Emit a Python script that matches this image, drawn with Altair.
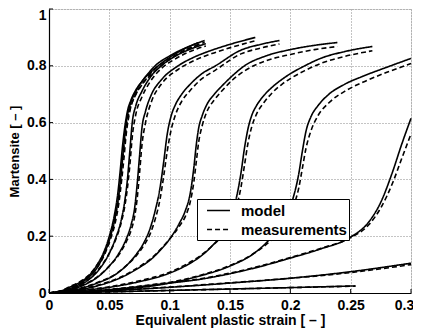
import altair as alt
import pandas as pd

# ---- curves: strain (x), model martensite (y), measured martensite (m) ----
A_x = [0, 0.01, 0.017, 0.025, 0.03, 0.035, 0.04, 0.045, 0.05, 0.054, 0.057, 0.059, 0.061, 0.063, 0.065, 0.068, 0.072, 0.077, 0.082, 0.088, 0.1, 0.11, 0.12, 0.129]
A_y = [0, 0.007, 0.02, 0.036, 0.05, 0.07, 0.1, 0.14, 0.2, 0.27, 0.35, 0.43, 0.52, 0.59, 0.64, 0.68, 0.715, 0.745, 0.772, 0.8, 0.835, 0.857, 0.875, 0.889]
A_m = [0, 0.008, 0.022, 0.038, 0.052, 0.072, 0.1, 0.135, 0.19, 0.25, 0.32, 0.39, 0.47, 0.55, 0.61, 0.66, 0.7, 0.733, 0.762, 0.79, 0.825, 0.85, 0.868, 0.883]

B_x = [0, 0.01, 0.02, 0.03, 0.04, 0.046, 0.051, 0.055, 0.058, 0.06, 0.062, 0.064, 0.067, 0.072, 0.078, 0.085, 0.092, 0.1, 0.11, 0.124]
B_y = [0, 0.006, 0.02, 0.045, 0.09, 0.14, 0.2, 0.27, 0.35, 0.43, 0.52, 0.6, 0.66, 0.71, 0.75, 0.78, 0.805, 0.83, 0.855, 0.882]
B_m = [0, 0.007, 0.021, 0.047, 0.09, 0.135, 0.19, 0.25, 0.32, 0.39, 0.47, 0.56, 0.64, 0.7, 0.74, 0.77, 0.797, 0.822, 0.848, 0.875]

C_x = [0, 0.01, 0.02, 0.03, 0.04, 0.05, 0.055, 0.06, 0.063, 0.065, 0.067, 0.069, 0.072, 0.077, 0.084, 0.093, 0.103, 0.115, 0.13]
C_y = [0, 0.005, 0.016, 0.038, 0.075, 0.14, 0.19, 0.26, 0.33, 0.4, 0.5, 0.6, 0.66, 0.71, 0.76, 0.8, 0.83, 0.855, 0.878]
C_m = [0, 0.006, 0.018, 0.04, 0.078, 0.14, 0.185, 0.25, 0.31, 0.37, 0.45, 0.55, 0.63, 0.69, 0.745, 0.79, 0.82, 0.847, 0.87]

D_x = [0, 0.01, 0.02, 0.03, 0.04, 0.05, 0.058, 0.064, 0.068, 0.071, 0.073, 0.075, 0.077, 0.08, 0.085, 0.093, 0.107, 0.12, 0.135, 0.152, 0.171]
D_y = [0, 0.005, 0.014, 0.03, 0.055, 0.095, 0.14, 0.19, 0.24, 0.3, 0.38, 0.48, 0.58, 0.64, 0.7, 0.75, 0.8, 0.83, 0.855, 0.878, 0.9]
D_m = [0, 0.006, 0.016, 0.032, 0.057, 0.095, 0.135, 0.18, 0.22, 0.27, 0.33, 0.42, 0.52, 0.6, 0.675, 0.735, 0.787, 0.818, 0.843, 0.866, 0.888]

E_x = [0, 0.02, 0.04, 0.055, 0.065, 0.073, 0.079, 0.084, 0.088, 0.092, 0.095, 0.098, 0.101, 0.105, 0.11, 0.117, 0.126, 0.138, 0.159, 0.175, 0.191]
E_y = [0, 0.01, 0.035, 0.065, 0.1, 0.14, 0.18, 0.23, 0.29, 0.37, 0.46, 0.56, 0.62, 0.665, 0.7, 0.735, 0.77, 0.8, 0.855, 0.875, 0.889]
E_m = [0, 0.011, 0.037, 0.066, 0.1, 0.135, 0.17, 0.21, 0.26, 0.33, 0.41, 0.5, 0.57, 0.63, 0.675, 0.713, 0.752, 0.785, 0.842, 0.862, 0.877]

F_x = [0, 0.02, 0.04, 0.06, 0.075, 0.085, 0.092, 0.1, 0.108, 0.113, 0.117, 0.12, 0.122, 0.124, 0.127, 0.131, 0.137, 0.144, 0.152, 0.162, 0.18, 0.2, 0.22, 0.239]
F_y = [0, 0.008, 0.025, 0.055, 0.09, 0.12, 0.15, 0.19, 0.245, 0.29, 0.35, 0.44, 0.52, 0.58, 0.625, 0.665, 0.7, 0.732, 0.765, 0.8, 0.835, 0.857, 0.872, 0.882]
F_m = [0, 0.009, 0.027, 0.057, 0.093, 0.123, 0.152, 0.19, 0.235, 0.27, 0.32, 0.39, 0.46, 0.53, 0.59, 0.64, 0.68, 0.715, 0.75, 0.782, 0.818, 0.84, 0.857, 0.868]

G_x = [0, 0.025, 0.05, 0.075, 0.1, 0.115, 0.125, 0.135, 0.142, 0.149, 0.155, 0.159, 0.162, 0.165, 0.168, 0.172, 0.178, 0.185, 0.193, 0.2, 0.212, 0.225, 0.245, 0.268]
G_y = [0, 0.008, 0.02, 0.04, 0.07, 0.1, 0.127, 0.165, 0.2, 0.26, 0.33, 0.42, 0.51, 0.58, 0.625, 0.66, 0.695, 0.725, 0.752, 0.772, 0.8, 0.826, 0.85, 0.868]
G_m = [0, 0.009, 0.022, 0.043, 0.073, 0.104, 0.13, 0.165, 0.195, 0.245, 0.3, 0.37, 0.45, 0.53, 0.585, 0.63, 0.67, 0.705, 0.735, 0.755, 0.783, 0.808, 0.833, 0.853]

H_x = [0, 0.05, 0.1, 0.125, 0.15, 0.17, 0.185, 0.195, 0.202, 0.207, 0.21, 0.213, 0.217, 0.223, 0.232, 0.245, 0.26, 0.28, 0.3]
H_y = [0, 0.01, 0.035, 0.06, 0.095, 0.14, 0.2, 0.26, 0.33, 0.42, 0.5, 0.57, 0.62, 0.66, 0.7, 0.735, 0.763, 0.795, 0.826]
H_m = [0, 0.011, 0.037, 0.062, 0.097, 0.14, 0.19, 0.24, 0.3, 0.37, 0.44, 0.51, 0.57, 0.625, 0.67, 0.71, 0.742, 0.777, 0.808]

I_x = [0, 0.05, 0.1, 0.125, 0.15, 0.175, 0.2, 0.225, 0.25, 0.265, 0.275, 0.285, 0.292, 0.3]
I_y = [0, 0.012, 0.035, 0.048, 0.068, 0.093, 0.123, 0.155, 0.197, 0.25, 0.32, 0.43, 0.52, 0.615]
I_m = [0, 0.013, 0.037, 0.05, 0.07, 0.095, 0.125, 0.157, 0.195, 0.24, 0.3, 0.39, 0.47, 0.56]

J_x = [0, 0.05, 0.1, 0.15, 0.2, 0.25, 0.3]
J_y = [0, 0.008, 0.02, 0.035, 0.052, 0.075, 0.105]
J_m = [0, 0.009, 0.021, 0.036, 0.052, 0.072, 0.1]

K_x = [0, 0.05, 0.1, 0.15, 0.2, 0.254]
K_y = [0, 0.004, 0.009, 0.014, 0.019, 0.025]
K_m = [0, 0.004, 0.009, 0.014, 0.019, 0.024]

curves = {
    "A": (A_x, A_y, A_m), "B": (B_x, B_y, B_m), "C": (C_x, C_y, C_m),
    "D": (D_x, D_y, D_m), "E": (E_x, E_y, E_m), "F": (F_x, F_y, F_m),
    "G": (G_x, G_y, G_m), "H": (H_x, H_y, H_m), "I": (I_x, I_y, I_m),
    "J": (J_x, J_y, J_m), "K": (K_x, K_y, K_m),
}

x_ticks = [0, 0.05, 0.1, 0.15, 0.2, 0.25, 0.3]
y_ticks = [0, 0.2, 0.4, 0.6, 0.8, 1]
types = ["model", "measurements"]

rows = []
for name, (xs, ym, ymeas) in curves.items():
    for i, (x, y) in enumerate(zip(xs, ym)):
        rows.append({"strain": x, "mart": y, "curve": name + "_mod", "type": "model", "order": i})
    for i, (x, y) in enumerate(zip(xs, ymeas)):
        rows.append({"strain": x, "mart": y, "curve": name + "_meas", "type": "measurements", "order": i})
df = pd.DataFrame(rows)

FONT = "Liberation Sans"
W, H = 362, 284

xscale = alt.Scale(domain=[0, 0.3], nice=False)
yscale = alt.Scale(domain=[0, 1], nice=False)

lines = alt.Chart(df).mark_line(interpolate="monotone", strokeWidth=1.6, color="black").encode(
    x=alt.X("strain:Q", scale=xscale,
            axis=alt.Axis(values=x_ticks, format="~g", title="Equivalent plastic strain [ – ]",
                          grid=True, gridDash=[1, 2], gridColor="#888", gridWidth=1,
                          domainColor="black", domainWidth=1.2, ticks=False, labelFlush=False,
                          labelOffset={"condition": {"test": "datum.value == 0.3", "value": -7}, "value": 0},
                          labelFont=FONT, labelFontSize=14, labelFontWeight="bold", labelColor="black",
                          labelPadding=5, titleFont=FONT, titleFontSize=14, titleFontWeight="bold",
                          titleColor="black", titleBaseline="alphabetic", titleY=31, titleX=W / 2)),
    y=alt.Y("mart:Q", scale=yscale,
            axis=alt.Axis(values=y_ticks, format="~g", title="Martensite [ – ]",
                          grid=True, gridDash=[1, 2], gridColor="#888", gridWidth=1,
                          domainColor="black", domainWidth=1.2, ticks=False, labelFlush=False,
                          labelOffset={"condition": {"test": "datum.value == 1", "value": 6}, "value": 0},
                          labelFont=FONT, labelFontSize=14, labelFontWeight="bold", labelColor="black",
                          labelPadding=3, titleFont=FONT, titleFontSize=13, titleFontWeight="bold",
                          titleColor="black", titleBaseline="middle", titleX=-34.5, titleY=H / 2)),
    detail="curve:N",
    order="order:Q",
    strokeDash=alt.StrokeDash("type:N", scale=alt.Scale(domain=types, range=[[1, 0], [5, 3]]),
                              legend=alt.Legend(title=None, orient="none", legendX=148, legendY=190,
                                                symbolType="M-1.35,0H1.35", symbolSize=289,
                                                symbolStrokeWidth=1.6, symbolOffset=10,
                                                symbolStrokeColor="black", strokeColor="black",
                                                fillColor="white", padding=2, rowPadding=1,
                                                labelFont=FONT, labelFontSize=15, labelFontWeight="bold",
                                                labelColor="black", labelOffset=13)),
)

xt = pd.DataFrame({"t": x_ticks})
yt = pd.DataFrame({"t": y_ticks})
xtick_marks = alt.Chart(xt).mark_rule(color="black", strokeWidth=1).encode(
    x=alt.X("t:Q", scale=xscale), y=alt.value(H), y2=alt.value(H - 4))
ytick_marks = alt.Chart(yt).mark_rule(color="black", strokeWidth=1).encode(
    y=alt.Y("t:Q", scale=yscale), x=alt.value(0), x2=alt.value(4))

chart = alt.layer(lines, xtick_marks, ytick_marks).properties(
    width=W, height=H,
    autosize=alt.AutoSizeParams(type="none"),
    padding={"left": 41, "top": 1, "right": 2, "bottom": 38},
).configure_view(stroke=None).configure(background="white")

chart.save("out.html", embed_options={"renderer": "svg", "actions": False})
